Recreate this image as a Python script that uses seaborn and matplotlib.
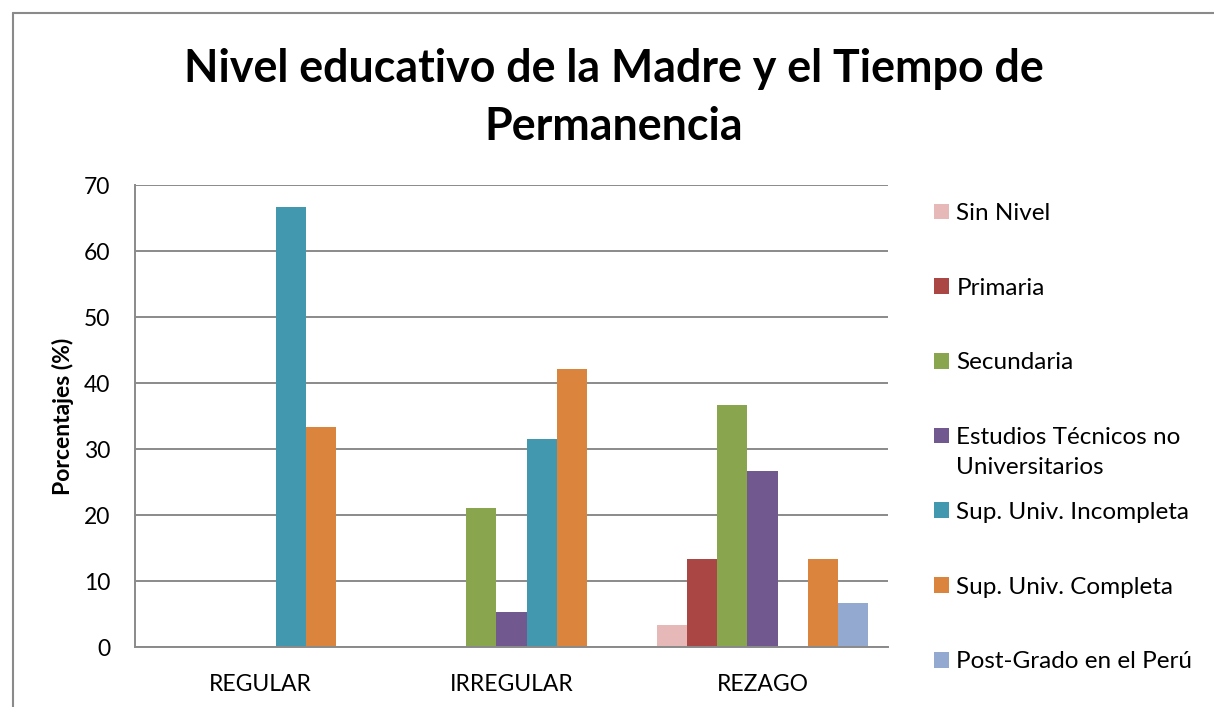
import matplotlib
matplotlib.use("Agg")
import matplotlib.pyplot as plt
import seaborn as sns
import pandas as pd
from matplotlib.patches import Patch
from matplotlib.lines import Line2D

categories = ["REGULAR", "IRREGULAR", "REZAGO"]
series = ["Sin Nivel", "Primaria", "Secundaria", "Estudios Técnicos no Universitarios",
          "Sup. Univ. Incompleta", "Sup. Univ. Completa", "Post-Grado en el Perú"]
legend_labels = ["Sin Nivel", "Primaria", "Secundaria", "Estudios Técnicos no",
                 "Sup. Univ. Incompleta", "Sup. Univ. Completa", "Post-Grado en el Perú"]
legend_extra_line = "Universitarios"
sin_nivel = [0, 0, 3.33]
primaria = [0, 0, 13.33]
secundaria = [0, 21.05, 36.67]
tecnicos = [0, 5.26, 26.67]
incompleta = [66.67, 31.58, 0]
completa = [33.33, 42.11, 13.33]
postgrado = [0, 0, 6.67]
colors = ["#E6B9B8", "#AA4643", "#89A54E", "#71588F", "#4198AF", "#DB843D", "#93A9CF"]

values = [sin_nivel, primaria, secundaria, tecnicos, incompleta, completa, postgrado]
rows = []
for s, vals in zip(series, values):
    for c, v in zip(categories, vals):
        rows.append({"cat": c, "serie": s, "val": v})
df = pd.DataFrame(rows)

sns.set_theme(style="white")
plt.rcParams['font.family'] = ['Lato', 'DejaVu Sans']
for k in ["text.color", "axes.labelcolor", "xtick.color", "ytick.color"]:
    plt.rcParams[k] = "black"

W, H = 1214, 707
fig = plt.figure(figsize=(W/100, H/100), dpi=100)
ax = fig.add_axes([135/W, 1-647/H, (888-135)/W, (647-185)/H])

sns.barplot(data=df, x="cat", y="val", hue="serie", order=categories, hue_order=series,
            palette=colors, width=0.837, gap=0, saturation=1, ax=ax, legend=False,
            edgecolor="none", linewidth=0)

ax.set_xlim(-0.5, 2.5)
ax.set_ylim(0, 70)
ax.set_yticks(range(0, 71, 10))
ax.yaxis.grid(True, color="#8a8a8a", linewidth=1.4)
ax.set_axisbelow(True)
for sp in ["top", "right"]:
    ax.spines[sp].set_visible(False)
for sp in ["left", "bottom"]:
    ax.spines[sp].set_color("#8a8a8a")
    ax.spines[sp].set_linewidth(1.4)
ax.tick_params(axis="y", length=0, pad=18, labelsize=16.5)
ax.tick_params(axis="x", length=0, pad=19.5, labelsize=16.5)
ax.set_xlabel("")
ax.set_ylabel("Porcentajes (%)", fontsize=16.5, fontweight="bold", labelpad=6.5)

fig.text(614/W, 1-98/H, "Nivel educativo de la Madre y el Tiempo de\nPermanencia",
         ha="center", va="center", fontsize=32.2, fontweight="bold", linespacing=1.5)

handles = [Patch(facecolor=c, edgecolor="none") for c in colors]
leg = fig.legend(handles, legend_labels, loc="upper left",
                 bbox_to_anchor=(934/W, 1-203/H), bbox_transform=fig.transFigure,
                 frameon=False, fontsize=17.5, labelspacing=2.21, handlelength=0.62,
                 handleheight=0.62, handletextpad=0.3, borderaxespad=0, borderpad=0)

fig.canvas.draw()
t = leg.get_texts()[3]
bb = t.get_window_extent()
fig.text(bb.x0, (bb.y0 + bb.y1)/2 - 30, legend_extra_line, transform=None,
         ha="left", va="center", fontsize=17.5)

# outer chart frame
fig.add_artist(Line2D([13/W, 1.0], [1-13/H, 1-13/H], transform=fig.transFigure,
                      color="#8a8a8a", linewidth=1.5))
fig.add_artist(Line2D([13/W, 13/W], [0, 1-13/H], transform=fig.transFigure,
                      color="#8a8a8a", linewidth=1.5))

fig.savefig("out.png", dpi=100)
